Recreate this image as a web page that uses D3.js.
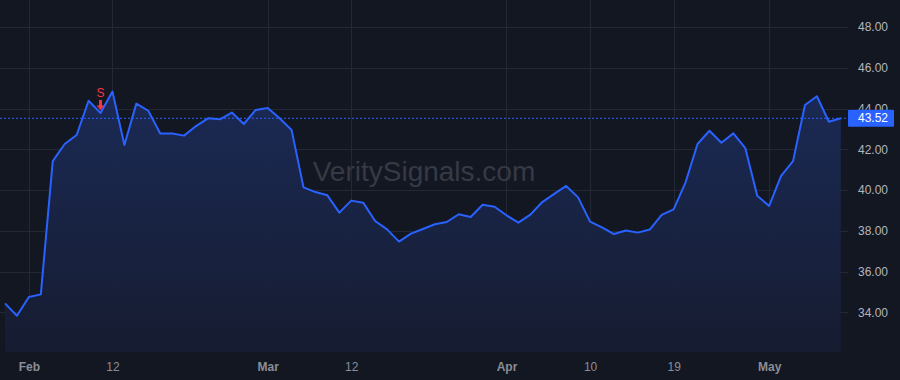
<!DOCTYPE html>
<html>
<head>
<meta charset="utf-8">
<script src="https://cdn.jsdelivr.net/npm/d3@7"></script>
<style>
  body { margin: 0; background: #131722; }
  svg { display: block; font-family: "Liberation Sans", Arial, sans-serif; }
</style>
</head>
<body>
<div id="chart"></div>
<script>
// trading days, Jan 30 .. May 9
var dates = [
  "2024-01-30","2024-01-31","2024-02-01","2024-02-02","2024-02-05","2024-02-06","2024-02-07","2024-02-08","2024-02-09",
  "2024-02-12","2024-02-13","2024-02-14","2024-02-15","2024-02-16","2024-02-20","2024-02-21","2024-02-22","2024-02-23",
  "2024-02-26","2024-02-27","2024-02-28","2024-02-29","2024-03-01","2024-03-04","2024-03-05","2024-03-06","2024-03-07",
  "2024-03-08","2024-03-11","2024-03-12","2024-03-13","2024-03-14","2024-03-15","2024-03-18","2024-03-19","2024-03-20",
  "2024-03-21","2024-03-22","2024-03-25","2024-03-26","2024-03-27","2024-03-28","2024-04-01","2024-04-02","2024-04-03",
  "2024-04-04","2024-04-05","2024-04-08","2024-04-09","2024-04-10","2024-04-11","2024-04-12","2024-04-15","2024-04-16",
  "2024-04-17","2024-04-18","2024-04-19","2024-04-22","2024-04-23","2024-04-24","2024-04-25","2024-04-26","2024-04-29",
  "2024-04-30","2024-05-01","2024-05-02","2024-05-03","2024-05-06","2024-05-07","2024-05-08","2024-05-09"
];
var prices = [
  34.44, 33.83, 34.75, 34.88, 41.42, 42.26, 42.70, 44.38, 43.78,
  44.83, 42.21, 44.24, 43.89, 42.77, 42.77, 42.67, 43.14, 43.52,
  43.47, 43.80, 43.24, 43.93, 44.03, 43.52, 42.95, 40.13, 39.90,
  39.74, 38.89, 39.48, 39.38, 38.48, 38.07, 37.47, 37.86, 38.09,
  38.32, 38.43, 38.81, 38.68, 39.28, 39.18, 38.76, 38.40, 38.79,
  39.41, 39.81, 40.20, 39.64, 38.45, 38.17, 37.84, 38.01, 37.91,
  38.06, 38.78, 39.05, 40.38, 42.26, 42.91, 42.32, 42.78, 42.06,
  39.72, 39.22, 40.70, 41.42, 44.17, 44.60, 43.35, 43.52
];
var yTicks = [34, 36, 38, 40, 42, 44, 46, 48];
var xTicks = ["2024-02-01","2024-02-12","2024-03-01","2024-03-12","2024-04-01","2024-04-10","2024-04-19","2024-05-01"];
var xTickLabels = ["Feb","12","Mar","12","Apr","10","19","May"];
var signals = [{date: "2024-02-09", label: "S"}];
var lastPrice = 43.52;

var W = 900, H = 380, plotRight = 848, plotBottom = 352;
var data = dates.map(function(d, i) { return {date: d, value: prices[i]}; });

var svg = d3.select("#chart").append("svg")
  .attr("width", W).attr("height", H);

svg.append("rect").attr("width", W).attr("height", H).attr("fill", "#131722");

var x = d3.scalePoint().domain(dates).range([5, 840.8]);
var y = d3.scaleLinear().domain([34, 48]).range([312.3, 27]);

var defs = svg.append("defs");
var grad = defs.append("linearGradient").attr("id", "fillGrad")
  .attr("x1", 0).attr("y1", 0).attr("x2", 0).attr("y2", 1);
grad.append("stop").attr("offset", "0%").attr("stop-color", "#1b2b58");
grad.append("stop").attr("offset", "100%").attr("stop-color", "#161c31");

// grid
svg.append("g").selectAll("line.h").data(yTicks).enter().append("line")
  .attr("x1", 0).attr("x2", plotRight)
  .attr("y1", function(d) { return Math.round(y(d)) + 0.5; })
  .attr("y2", function(d) { return Math.round(y(d)) + 0.5; })
  .attr("stroke", "#242834").attr("stroke-width", 1);

svg.append("g").selectAll("line.v").data(xTicks).enter().append("line")
  .attr("x1", function(d) { return Math.round(x(d)) + 0.5; })
  .attr("x2", function(d) { return Math.round(x(d)) + 0.5; })
  .attr("y1", 0).attr("y2", plotBottom)
  .attr("stroke", "#242834").attr("stroke-width", 1);

// watermark
svg.append("text")
  .attr("x", 424).attr("y", 181)
  .attr("text-anchor", "middle")
  .attr("font-size", 28)
  .attr("fill", "#363a45")
  .text("VeritySignals.com");

// area + line
var area = d3.area()
  .x(function(d) { return x(d.date); })
  .y0(plotBottom)
  .y1(function(d) { return y(d.value); });

svg.append("path").datum(data)
  .attr("d", area)
  .attr("fill", "url(#fillGrad)")
  .attr("fill-opacity", 0.95);

var line = d3.line()
  .x(function(d) { return x(d.date); })
  .y(function(d) { return y(d.value); });

svg.append("path").datum(data)
  .attr("d", line)
  .attr("fill", "none")
  .attr("stroke", "#2962ff")
  .attr("stroke-width", 2)
  .attr("stroke-linejoin", "round");

// last price dotted line
svg.append("line")
  .attr("x1", 0).attr("x2", plotRight)
  .attr("y1", y(lastPrice)).attr("y2", y(lastPrice))
  .attr("stroke", "#2962ff").attr("stroke-width", 1)
  .attr("stroke-dasharray", "2,2");

// signal markers
signals.forEach(function(s) {
  var px = x(s.date);
  var py = y(prices[dates.indexOf(s.date)]);
  var g = svg.append("g").attr("transform", "translate(" + px + "," + py + ")");
  g.append("path")
    .attr("d", "M-1.5,-13 L1.5,-13 L1.5,-7.5 L4,-7.5 L0,-3 L-4,-7.5 L-1.5,-7.5 Z")
    .attr("fill", "#f23645");
  g.append("text")
    .attr("x", 0).attr("y", -16)
    .attr("text-anchor", "middle")
    .attr("font-size", 12)
    .attr("fill", "#f23645")
    .text(s.label);
});

// right axis
var yAxis = svg.append("g")
  .attr("transform", "translate(" + plotRight + ",0)")
  .call(d3.axisRight(y).tickValues(yTicks).tickFormat(d3.format(".2f")).tickSize(0).tickPadding(10));
yAxis.select(".domain").remove();
yAxis.selectAll("text")
  .attr("fill", "#b2b5be")
  .attr("font-size", 12)
  .attr("font-family", "\"Liberation Sans\", Arial, sans-serif");

// last price label
svg.append("rect")
  .attr("x", plotRight).attr("y", y(lastPrice) - 8.5)
  .attr("width", 46).attr("height", 17)
  .attr("rx", 1)
  .attr("fill", "#2962ff");
svg.append("text")
  .attr("x", plotRight + 10).attr("y", y(lastPrice))
  .attr("dy", "0.35em")
  .attr("font-size", 12)
  .attr("fill", "#ffffff")
  .text(d3.format(".2f")(lastPrice));

// bottom axis
var xAxis = svg.append("g")
  .attr("transform", "translate(0," + plotBottom + ")")
  .call(d3.axisBottom(x).tickValues(xTicks)
    .tickFormat(function(d, i) { return xTickLabels[i]; })
    .tickSize(0).tickPadding(10));
xAxis.select(".domain").remove();
xAxis.selectAll("text")
  .attr("fill", "#8a8d96")
  .attr("font-size", 12)
  .attr("font-family", "\"Liberation Sans\", Arial, sans-serif")
  .attr("font-weight", function(d, i) { return isNaN(+xTickLabels[i]) ? "bold" : "normal"; });
</script>
</body>
</html>
